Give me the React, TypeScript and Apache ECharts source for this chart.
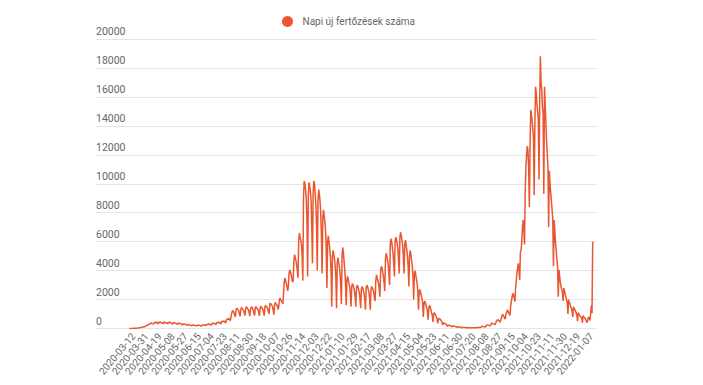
import React, { useEffect, useRef } from "react";
import * as echarts from "echarts";

const START_DATE = "2020-03-06";
const SKIPPED_DATE = "2021-07-04";
const FIRST_LABEL_INDEX = 6;
const LABEL_STEP = 19;
const SERIES_NAME = "Napi új fertőzések száma";
const Y_MIN = 0;
const Y_MAX = 20000;
const Y_INTERVAL = 2000;
const LINE_COLOR = "#ea5630";
const FONT = "Roboto, 'Liberation Sans', Arial, sans-serif";

// daily new cases, week by week
const spring2020 = [
  0, 0, 2, 3, 5, 7, 9,
  10, 15, 20, 18, 25, 30, 35,
  40, 50, 60, 70, 80, 90, 100,
  90, 120, 150, 180, 200, 220, 240,
  230, 300, 330, 350, 380, 340, 320,
  300, 400, 430, 380, 420, 450, 350,
  330, 440, 400, 460, 420, 390, 360,
  320, 430, 450, 400, 380, 420, 350,
  310, 400, 420, 440, 390, 380, 340,
  300, 380, 410, 390, 370, 350, 320,
  280, 360, 380, 350, 340, 330, 300,
];
const summer2020 = [
  250, 300, 320, 290, 280, 270, 250,
  220, 270, 260, 250, 240, 230, 210,
  190, 250, 240, 230, 220, 210, 200,
  180, 230, 220, 240, 210, 200, 190,
  170, 220, 250, 240, 230, 260, 210,
  200, 280, 300, 270, 320, 290, 250,
  230, 350, 330, 380, 360, 340, 300,
  280, 400, 420, 380, 450, 410, 350,
  320, 480, 500, 460, 530, 490, 420,
  400, 600, 650, 620, 700, 680, 560,
  600, 900, 1100, 1250, 1200, 1100, 950,
];
const autumn2020 = [
  800, 1300, 1400, 1350, 1300, 1200, 1000,
  850, 1350, 1450, 1400, 1300, 1250, 1050,
  900, 1400, 1500, 1450, 1350, 1300, 1100,
  850, 1350, 1450, 1500, 1400, 1250, 1050,
  900, 1450, 1500, 1400, 1350, 1300, 1100,
  880, 1400, 1550, 1450, 1400, 1300, 1100,
  900, 1500, 1600, 1500, 1450, 1350, 1150,
  1000, 1700, 1750, 1650, 1600, 1500, 1250,
  950, 1650, 1800, 1700, 1650, 1550, 1300,
  1500, 2000, 2100, 1950, 1900, 1800, 1700,
];
const wave2 = [
  2400, 3200, 3500, 3300, 3100, 2900, 2600,
  2900, 3800, 4050, 3900, 3700, 3500, 3200,
  3300, 4600, 5100, 4900, 4700, 4400, 4000,
  3500, 6000, 6600, 6300, 6100, 5800, 5000,
  3300, 9000, 10200, 10000, 9600, 9000, 7500,
  3600, 9200, 10100, 9800, 9500, 8800, 7000,
  4500, 9400, 10200, 10000, 9300, 8500, 7000,
  4000, 8800, 9600, 9300, 8800, 8000, 6500,
  3800, 7600, 8200, 7800, 7400, 6800, 5500,
  2800, 6000, 6400, 6000, 5600, 5000, 4000,
  1500, 5000, 5400, 5100, 4800, 4300, 3500,
  1400, 4500, 4900, 4600, 4300, 3800, 3000,
  1700, 5000, 5600, 5200, 4600, 4000, 3200,
];
const trough2021 = [
  1600, 3300, 3600, 3400, 3100, 2900, 2400,
  1500, 2900, 3100, 3000, 2800, 2600, 2200,
  1500, 2800, 3000, 2900, 2700, 2500, 2100,
  1400, 2700, 2900, 2800, 2600, 2400, 2000,
  1300, 2800, 3000, 2900, 2700, 2500, 2100,
  1300, 2700, 2900, 2800, 2700, 2500, 2100,
];
const wave3 = [
  1900, 3300, 3700, 3500, 3300, 3100, 2700,
  2200, 4000, 4300, 4200, 3900, 3600, 3200,
  2600, 4800, 5200, 5000, 4700, 4400, 3800,
  3000, 5800, 6200, 6000, 5600, 5200, 4500,
  3600, 6000, 6300, 6200, 5900, 5500, 4800,
  3800, 6300, 6650, 6400, 6100, 5700, 5000,
  3800, 5800, 6100, 5800, 5400, 5000, 4300,
  2900, 5000, 5400, 5100, 4700, 4300, 3600,
  2000, 3700, 4000, 3700, 3400, 3100, 2600,
  1300, 2500, 2700, 2500, 2300, 2100, 1800,
  800, 1700, 1900, 1800, 1600, 1400, 1200,
  600, 1400, 1600, 1500, 1300, 1100, 900,
  450, 1000, 1100, 1000, 900, 800, 650,
  350, 650, 700, 650, 600, 550, 450,
];
const summer2021 = [
  250, 350, 380, 350, 320, 300, 260,
  150, 220, 210, 200, 190, 180, 160,
  110, 170, 160, 150, 140, 130, 120,
  80, 120, 115, 110, 100, 95, 85,
  55, 85, 80, 75, 70, 65, 60,
  45, 70, 65, 60, 55, 55, 50,
  40, 60, 55, 55, 50, 50, 45,
  50, 80, 75, 70, 70, 65, 60,
  90, 150, 140, 130, 120, 115, 100,
  150, 250, 240, 230, 220, 200, 180,
  240, 350, 370, 340, 320, 300, 270,
  350, 500, 550, 600, 580, 520, 450,
  500, 700, 800, 1000, 900, 850, 700,
  650, 1000, 1100, 1280, 1200, 1100, 950,
];
const wave4 = [
  930, 1630, 1900, 2200, 2430, 2300, 2100,
  1850, 2800, 3300, 3800, 4200, 4500, 4000,
  3350, 5300, 5400, 6000, 7000, 7500, 6800,
  5800, 9500, 11200, 12000, 12600, 12300, 11000,
  8400, 12500, 15100, 14800, 14400, 13800, 13200,
  9200, 14000, 16700, 16300, 15500, 15000, 14500,
  10300, 15500, 18800, 17000, 16500, 15300, 14800,
  9300, 16700, 15500, 14200, 13000, 12000, 11200,
  7000, 10900, 10000, 9400, 8800, 8200, 7600,
  4300, 7500, 6800, 5900, 5400, 4800, 4300,
  2200, 4050, 3600, 3200, 2900, 2700, 2500,
  1900, 2800, 2600, 2400, 2200, 2000, 1800,
];
const winter2021 = [
  1000, 2000, 1800, 1700, 1500, 1400, 1200,
  800, 1500, 1400, 1300, 1200, 1100, 900,
  500, 1100, 1000, 900, 850, 800, 700,
  400, 900, 800, 750, 700, 600, 500,
  400, 650, 800, 700, 550, 1000, 1600,
  1050, 6000,
];

const dailyCases = [
  ...spring2020,
  ...summer2020,
  ...autumn2020,
  ...wave2,
  ...trough2021,
  ...wave3,
  ...summer2021,
  ...wave4,
  ...winter2021,
];

function buildDates(n: number): string[] {
  const out: string[] = [];
  const d = new Date(START_DATE + "T00:00:00Z");
  while (out.length < n) {
    const s = d.toISOString().slice(0, 10);
    if (s !== SKIPPED_DATE) out.push(s);
    d.setUTCDate(d.getUTCDate() + 1);
  }
  return out;
}

const dates = buildDates(dailyCases.length);

export default function App() {
  const ref = useRef<HTMLDivElement>(null);
  useEffect(() => {
    if (!ref.current) return;
    const chart = echarts.init(ref.current, undefined, { renderer: "svg" });
    chart.setOption({
      animation: false,
      textStyle: { fontFamily: FONT },
      legend: {
        data: [{ name: SERIES_NAME, icon: "circle" }],
        top: 11,
        left: 277,
        itemWidth: 20,
        itemHeight: 11,
        textStyle: { fontSize: 10, color: "#666", fontFamily: FONT },
      },
      grid: [
        { left: 96, right: 106, top: 39, bottom: 56.5 },
        { left: 129.3, right: 110.3, top: 39, bottom: 56.5 },
      ],
      xAxis: [
        { gridIndex: 0, type: "value", show: false, min: 0, max: 1 },
        {
          gridIndex: 1,
          type: "category",
          data: dates,
          boundaryGap: false,
          axisLine: { show: false },
          axisTick: { show: false },
          splitLine: { show: false },
          axisLabel: {
            interval: (i: number) => i >= FIRST_LABEL_INDEX && (i - FIRST_LABEL_INDEX) % LABEL_STEP === 0,
            rotate: 50,
            fontSize: 10,
            color: "#666",
            margin: 6,
            fontFamily: FONT,
          },
        },
      ],
      yAxis: [
        {
          gridIndex: 0,
          type: "value",
          min: Y_MIN,
          max: Y_MAX,
          interval: Y_INTERVAL,
          axisLine: { show: false },
          axisTick: { show: false },
          splitLine: { lineStyle: { color: "#e4e4e4", width: 1 } },
          axisLabel: {
            inside: true,
            margin: 0,
            align: "left",
            verticalAlign: "bottom",
            padding: [0, 0, 2, 0],
            fontSize: 10.5,
            color: "#666",
            fontFamily: FONT,
            formatter: (v: number) => String(v),
          },
        },
        { gridIndex: 1, type: "value", min: Y_MIN, max: Y_MAX, interval: Y_INTERVAL, show: false },
      ],
      series: [
        {
          name: SERIES_NAME,
          type: "line",
          xAxisIndex: 1,
          yAxisIndex: 1,
          data: dailyCases,
          symbol: "none",
          lineStyle: { color: LINE_COLOR, width: 1.5 },
          itemStyle: { color: LINE_COLOR },
        },
      ],
    });
    return () => chart.dispose();
  }, []);
  return (
    <div
      ref={ref}
      style={{ position: "absolute", left: 0, top: 0, width: 703, height: 385, background: "#fff" }}
    />
  );
}
